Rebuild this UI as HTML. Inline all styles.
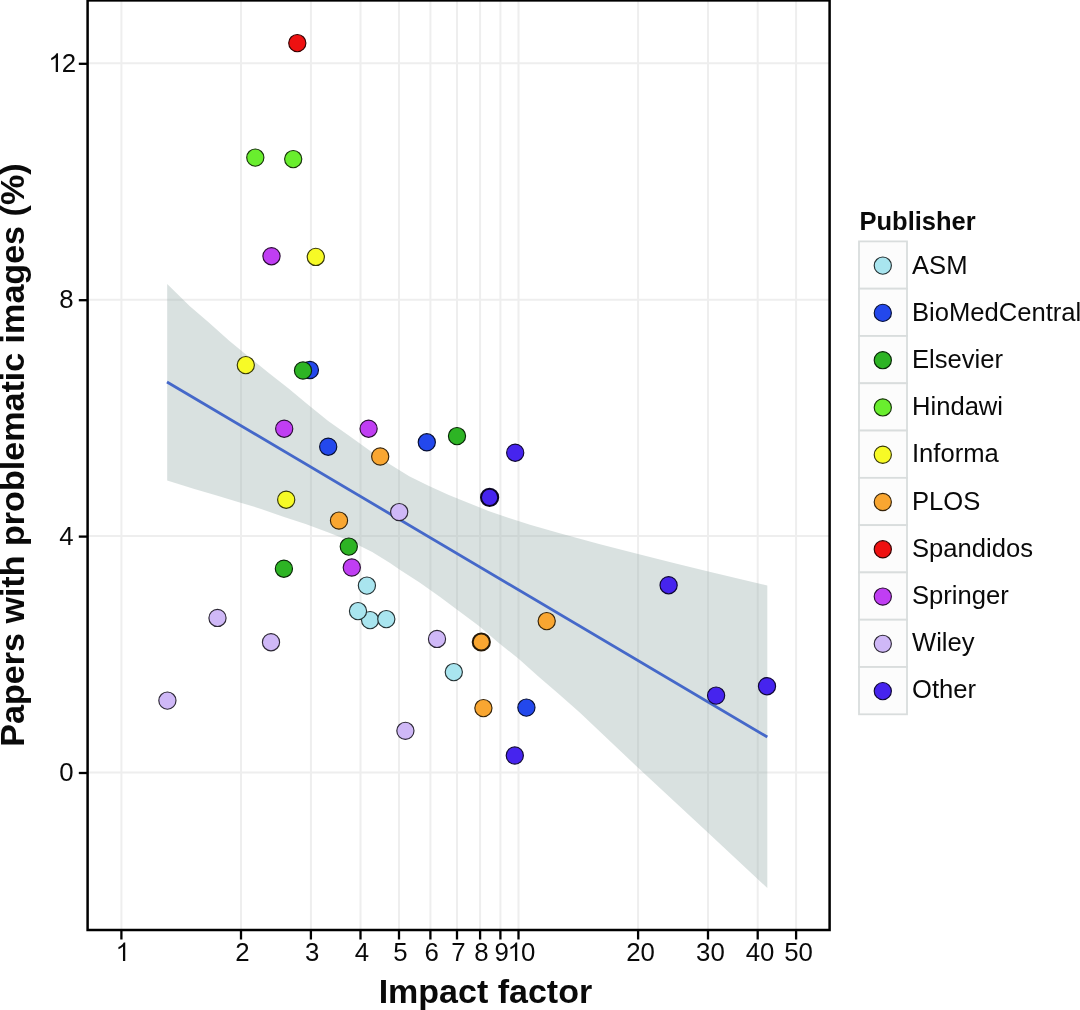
<!DOCTYPE html>
<html><head><meta charset="utf-8"><title>Papers with problematic images vs impact factor</title>
<style>html,body{margin:0;padding:0;background:#fff;}body{width:1080px;height:1010px;overflow:hidden;font-family:"Liberation Sans",sans-serif;}svg{display:block;filter:opacity(1);}text{font-family:"Liberation Sans",sans-serif;fill:#0a0a0a;}</style>
</head><body>
<svg width="1080" height="1010" viewBox="0 0 1080 1010">
<rect x="0" y="0" width="1080" height="1010" fill="#ffffff"/>
<g stroke="#eeeeee" stroke-width="2" fill="none">
<line x1="121.4" y1="0.5" x2="121.4" y2="930.0"/>
<line x1="241.0" y1="0.5" x2="241.0" y2="930.0"/>
<line x1="310.9" y1="0.5" x2="310.9" y2="930.0"/>
<line x1="360.5" y1="0.5" x2="360.5" y2="930.0"/>
<line x1="399.0" y1="0.5" x2="399.0" y2="930.0"/>
<line x1="430.4" y1="0.5" x2="430.4" y2="930.0"/>
<line x1="457.0" y1="0.5" x2="457.0" y2="930.0"/>
<line x1="480.1" y1="0.5" x2="480.1" y2="930.0"/>
<line x1="500.4" y1="0.5" x2="500.4" y2="930.0"/>
<line x1="518.5" y1="0.5" x2="518.5" y2="930.0"/>
<line x1="638.1" y1="0.5" x2="638.1" y2="930.0"/>
<line x1="708.0" y1="0.5" x2="708.0" y2="930.0"/>
<line x1="757.7" y1="0.5" x2="757.7" y2="930.0"/>
<line x1="796.1" y1="0.5" x2="796.1" y2="930.0"/>
<line x1="87.6" y1="772.5" x2="829.6" y2="772.5"/>
<line x1="87.6" y1="536.1" x2="829.6" y2="536.1"/>
<line x1="87.6" y1="299.7" x2="829.6" y2="299.7"/>
<line x1="87.6" y1="63.3" x2="829.6" y2="63.3"/>
</g>
<polygon points="167.2,284.0 189.6,305.9 209.4,323.0 229.2,340.8 249.0,357.1 268.8,373.0 288.6,388.5 308.4,405.0 328.2,421.0 349.8,436.2 369.6,450.5 389.4,464.0 409.2,476.2 429.0,486.1 448.8,495.0 468.6,503.0 488.4,510.9 508.2,517.8 530.0,524.8 558.8,533.0 600.0,544.2 642.0,555.0 675.7,563.5 709.4,571.7 743.0,579.7 767.3,585.5 767.3,888.0 707.8,832.5 637.8,767.5 580.0,712.8 558.2,693.5 538.4,676.6 518.6,658.8 498.8,643.0 479.0,626.1 459.2,611.3 439.4,596.4 419.6,582.6 399.8,569.7 390.0,563.0 372.2,552.0 350.0,541.1 327.8,532.2 305.6,524.0 283.3,516.7 261.1,508.9 238.9,502.2 216.7,495.6 194.4,488.9 167.2,480.6" fill="#8fa6a5" fill-opacity="0.34"/>
<line x1="167.0" y1="382.0" x2="767.3" y2="737.0" stroke="#4568c9" stroke-width="2.8"/>
<g stroke-width="1.15">
<circle cx="297.3" cy="43.1" r="8.6" fill="#ee1111" stroke="#340303"/>
<circle cx="255.3" cy="157.6" r="8.6" fill="#69ee2e" stroke="#17340a"/>
<circle cx="293.2" cy="159.1" r="8.6" fill="#69ee2e" stroke="#17340a"/>
<circle cx="271.5" cy="256.2" r="8.6" fill="#c03ef3" stroke="#2a0d35"/>
<circle cx="315.8" cy="256.9" r="8.6" fill="#f7fa26" stroke="#363708"/>
<circle cx="245.8" cy="365.1" r="8.6" fill="#f7fa26" stroke="#363708"/>
<circle cx="309.9" cy="370.0" r="8.6" fill="#2348ec" stroke="#070f33"/>
<circle cx="303.0" cy="370.5" r="8.6" fill="#2db424" stroke="#092707"/>
<circle cx="284.2" cy="428.7" r="8.6" fill="#c03ef3" stroke="#2a0d35"/>
<circle cx="368.6" cy="428.7" r="8.6" fill="#c03ef3" stroke="#2a0d35"/>
<circle cx="328.2" cy="446.7" r="8.6" fill="#2348ec" stroke="#070f33"/>
<circle cx="380.2" cy="456.5" r="8.6" fill="#f9a631" stroke="#36240a"/>
<circle cx="426.8" cy="442.3" r="8.6" fill="#2348ec" stroke="#070f33"/>
<circle cx="457.0" cy="436.1" r="8.6" fill="#2db424" stroke="#092707"/>
<circle cx="515.2" cy="452.7" r="8.6" fill="#4624ee" stroke="#0f0734"/>
<circle cx="489.6" cy="497.4" r="8.6" fill="#4624ee" stroke="#0a0523" stroke-width="2"/>
<circle cx="286.2" cy="499.7" r="8.6" fill="#f7fa26" stroke="#363708"/>
<circle cx="399.2" cy="512.1" r="8.6" fill="#cfb8f7" stroke="#2d2836"/>
<circle cx="339.0" cy="520.6" r="8.6" fill="#f9a631" stroke="#36240a"/>
<circle cx="348.8" cy="546.6" r="8.6" fill="#2db424" stroke="#092707"/>
<circle cx="283.9" cy="568.7" r="8.6" fill="#2db424" stroke="#092707"/>
<circle cx="351.8" cy="567.5" r="8.6" fill="#c03ef3" stroke="#2a0d35"/>
<circle cx="366.9" cy="585.6" r="8.6" fill="#a9e5ef" stroke="#253234"/>
<circle cx="370.1" cy="620.1" r="8.6" fill="#a9e5ef" stroke="#253234"/>
<circle cx="358.0" cy="611.1" r="8.6" fill="#a9e5ef" stroke="#253234"/>
<circle cx="386.3" cy="619.1" r="8.6" fill="#a9e5ef" stroke="#253234"/>
<circle cx="217.5" cy="617.9" r="8.6" fill="#cfb8f7" stroke="#2d2836"/>
<circle cx="271.0" cy="642.2" r="8.6" fill="#cfb8f7" stroke="#2d2836"/>
<circle cx="437.0" cy="638.9" r="8.6" fill="#cfb8f7" stroke="#2d2836"/>
<circle cx="481.3" cy="642.0" r="8.6" fill="#f9a631" stroke="#251807" stroke-width="2"/>
<circle cx="453.8" cy="672.1" r="8.6" fill="#a9e5ef" stroke="#253234"/>
<circle cx="167.4" cy="700.6" r="8.6" fill="#cfb8f7" stroke="#2d2836"/>
<circle cx="483.4" cy="708.1" r="8.6" fill="#f9a631" stroke="#36240a"/>
<circle cx="526.4" cy="707.6" r="8.6" fill="#2348ec" stroke="#070f33"/>
<circle cx="405.4" cy="730.8" r="8.6" fill="#cfb8f7" stroke="#2d2836"/>
<circle cx="514.8" cy="755.5" r="8.6" fill="#4624ee" stroke="#0f0734"/>
<circle cx="546.7" cy="621.1" r="8.6" fill="#f9a631" stroke="#36240a"/>
<circle cx="668.6" cy="585.2" r="8.6" fill="#4624ee" stroke="#0f0734"/>
<circle cx="716.1" cy="695.6" r="8.6" fill="#4624ee" stroke="#0f0734"/>
<circle cx="767.0" cy="686.2" r="8.6" fill="#4624ee" stroke="#0f0734"/>
</g>
<rect x="87.6" y="0.4" width="742.0" height="929.6" fill="none" stroke="#000" stroke-width="2.5"/>
<g stroke="#000" stroke-width="2.3">
<line x1="121.4" y1="930.0" x2="121.4" y2="939.5"/>
<line x1="241.0" y1="930.0" x2="241.0" y2="939.5"/>
<line x1="310.9" y1="930.0" x2="310.9" y2="939.5"/>
<line x1="360.5" y1="930.0" x2="360.5" y2="939.5"/>
<line x1="399.0" y1="930.0" x2="399.0" y2="939.5"/>
<line x1="430.4" y1="930.0" x2="430.4" y2="939.5"/>
<line x1="457.0" y1="930.0" x2="457.0" y2="939.5"/>
<line x1="480.1" y1="930.0" x2="480.1" y2="939.5"/>
<line x1="500.4" y1="930.0" x2="500.4" y2="939.5"/>
<line x1="518.5" y1="930.0" x2="518.5" y2="939.5"/>
<line x1="638.1" y1="930.0" x2="638.1" y2="939.5"/>
<line x1="708.0" y1="930.0" x2="708.0" y2="939.5"/>
<line x1="757.7" y1="930.0" x2="757.7" y2="939.5"/>
<line x1="796.1" y1="930.0" x2="796.1" y2="939.5"/>
<line x1="78.8" y1="773.0" x2="87.6" y2="773.0"/>
<line x1="78.8" y1="536.6" x2="87.6" y2="536.6"/>
<line x1="78.8" y1="300.2" x2="87.6" y2="300.2"/>
<line x1="78.8" y1="63.8" x2="87.6" y2="63.8"/>
</g>
<g font-size="25.8">
<path d="M763 0H583V1147Q518 1085 412.5 1023Q307 961 223 930V1104Q374 1175 487 1276Q600 1377 647 1472H763Z" transform="translate(115.63,961.00) scale(0.012598,-0.012598)" fill="#0a0a0a"/>
<text x="242.4" y="961.0" text-anchor="middle">2</text>
<text x="312.3" y="961.0" text-anchor="middle">3</text>
<text x="361.9" y="961.0" text-anchor="middle">4</text>
<text x="400.4" y="961.0" text-anchor="middle">5</text>
<text x="431.8" y="961.0" text-anchor="middle">6</text>
<text x="458.4" y="961.0" text-anchor="middle">7</text>
<text x="481.5" y="961.0" text-anchor="middle">8</text>
<text x="501.8" y="961.0" text-anchor="middle">9</text>
<path d="M763 0H583V1147Q518 1085 412.5 1023Q307 961 223 930V1104Q374 1175 487 1276Q600 1377 647 1472H763Z" transform="translate(507.60,961.00) scale(0.012598,-0.012598)" fill="#0a0a0a"/>
<text x="520.95" y="961.0">0</text>
<text x="640.5" y="961.0" text-anchor="middle">20</text>
<text x="710.4" y="961.0" text-anchor="middle">30</text>
<text x="760.1" y="961.0" text-anchor="middle">40</text>
<text x="798.5" y="961.0" text-anchor="middle">50</text>
<text x="73.6" y="781.1" text-anchor="end">0</text>
<text x="73.6" y="544.7" text-anchor="end">4</text>
<text x="73.6" y="308.3" text-anchor="end">8</text>
<path d="M763 0H583V1147Q518 1085 412.5 1023Q307 961 223 930V1104Q374 1175 487 1276Q600 1377 647 1472H763Z" transform="translate(48.40,71.90) scale(0.012598,-0.012598)" fill="#0a0a0a"/>
<text x="61.85" y="71.9">2</text>
</g>
<text x="485.4" y="1003.0" text-anchor="middle" font-size="34" font-weight="bold">Impact factor</text>
<text transform="translate(24.4,455.1) rotate(-90)" text-anchor="middle" font-size="34.1" font-weight="bold">Papers with problematic images (%)</text>
<text x="859.5" y="230" font-size="25.5" font-weight="bold">Publisher</text>
<g fill="#fcfcfc" stroke="#d9dddd" stroke-width="1.8">
<rect x="859.0" y="241.40" width="48.0" height="47.29"/>
<rect x="859.0" y="288.69" width="48.0" height="47.29"/>
<rect x="859.0" y="335.98" width="48.0" height="47.29"/>
<rect x="859.0" y="383.27" width="48.0" height="47.29"/>
<rect x="859.0" y="430.56" width="48.0" height="47.29"/>
<rect x="859.0" y="477.85" width="48.0" height="47.29"/>
<rect x="859.0" y="525.14" width="48.0" height="47.29"/>
<rect x="859.0" y="572.43" width="48.0" height="47.29"/>
<rect x="859.0" y="619.72" width="48.0" height="47.29"/>
<rect x="859.0" y="667.01" width="48.0" height="47.29"/>
</g>
<g stroke-width="1.15">
<circle cx="882.8" cy="265.60" r="8.6" fill="#a9e5ef" stroke="#253234"/>
<circle cx="882.8" cy="312.88" r="8.6" fill="#2348ec" stroke="#070f33"/>
<circle cx="882.8" cy="360.16" r="8.6" fill="#2db424" stroke="#092707"/>
<circle cx="882.8" cy="407.44" r="8.6" fill="#69ee2e" stroke="#17340a"/>
<circle cx="882.8" cy="454.72" r="8.6" fill="#f7fa26" stroke="#363708"/>
<circle cx="882.8" cy="502.00" r="8.6" fill="#f9a631" stroke="#36240a"/>
<circle cx="882.8" cy="549.28" r="8.6" fill="#ee1111" stroke="#340303"/>
<circle cx="882.8" cy="596.56" r="8.6" fill="#c03ef3" stroke="#2a0d35"/>
<circle cx="882.8" cy="643.84" r="8.6" fill="#cfb8f7" stroke="#2d2836"/>
<circle cx="882.8" cy="691.12" r="8.6" fill="#4624ee" stroke="#0f0734"/>
</g>
<g font-size="25.6">
<text x="912" y="273.50">ASM</text>
<text x="912" y="320.70">BioMedCentral</text>
<text x="912" y="367.90">Elsevier</text>
<text x="912" y="415.10">Hindawi</text>
<text x="912" y="462.30">Informa</text>
<text x="912" y="509.50">PLOS</text>
<text x="912" y="556.70">Spandidos</text>
<text x="912" y="603.90">Springer</text>
<text x="912" y="651.10">Wiley</text>
<text x="912" y="698.30">Other</text>
</g>
</svg>
</body></html>
